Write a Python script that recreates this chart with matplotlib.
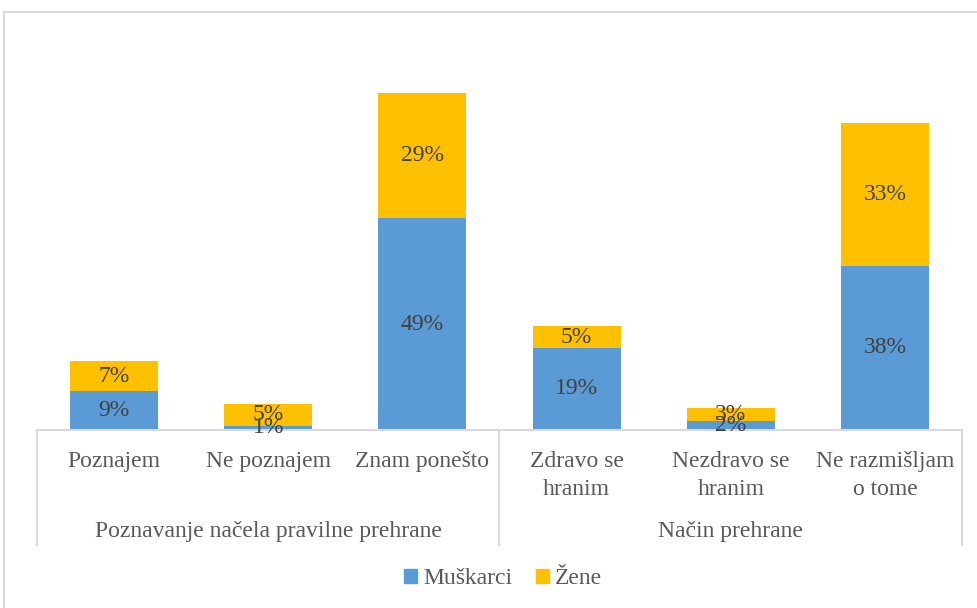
import matplotlib
matplotlib.use("Agg")
import matplotlib.pyplot as plt
from matplotlib.patches import Patch
from matplotlib.lines import Line2D

categories = [["Poznajem"], ["Ne poznajem"], ["Znam ponešto"],
              ["Zdravo se", "hranim"], ["Nezdravo se", "hranim"], ["Ne razmišljam", "o tome"]]
groups = ["Poznavanje načela pravilne prehrane", "Način prehrane"]
group_sizes = [3, 3]
muskarci = [9, 1, 49, 19, 2, 38]
zene = [7, 5, 29, 5, 3, 33]
series_names = ["Muškarci", "Žene"]

BLUE = "#5B9BD5"
GOLD = "#FFC000"
TXT = "#595959"
LBL = "#404040"
GRID = "#D9D9D9"
FONT = "Liberation Serif"
FS = 17

W, H = 978, 608
fig = plt.figure(figsize=(W / 100, H / 100), dpi=100)
plt.rcParams['font.family'] = [FONT, 'DejaVu Serif']

# axes placement (pixel based)
ax_left, ax_right, ax_base = 37, 962, 430
ymax = 90
px_per = 4.32
ax_h = ymax * px_per
ax = fig.add_axes([ax_left / W, (H - ax_base) / H, (ax_right - ax_left) / W, ax_h / H])
ax.set_xlim(-0.5, len(categories) - 0.5)
ax.set_ylim(0, ymax)

x = list(range(len(categories)))
bw = 0.57
b1 = ax.bar(x, muskarci, width=bw, color=BLUE, label=series_names[0], zorder=2)
b2 = ax.bar(x, zene, width=bw, bottom=muskarci, color=GOLD, label=series_names[1], zorder=2)

for xi, m, z in zip(x, muskarci, zene):
    ax.text(xi, m / 2, f"{m}%", ha="center", va="center", fontsize=FS, color=LBL, zorder=3)
    ax.text(xi, m + z / 2, f"{z}%", ha="center", va="center", fontsize=FS, color=LBL, zorder=3)

for s in ["top", "left", "right"]:
    ax.spines[s].set_visible(False)
ax.spines["bottom"].set_color(GRID)
ax.spines["bottom"].set_linewidth(1.5)
ax.set_xticks([])
ax.set_yticks([])
ax.patch.set_alpha(0)

trans = ax.get_xaxis_transform()
def yax(py):
    return (ax_base - py) / ax_h

# category labels
for xi, lines in zip(x, categories):
    for k, line in enumerate(lines):
        ax.text(xi, yax(467 + 28 * k), line, ha="center", va="baseline",
                fontsize=FS, color=TXT, transform=trans, clip_on=False)

# group labels and separators
start = 0
bounds = [-0.5]
for g, n in zip(groups, group_sizes):
    center = start + (n - 1) / 2
    ax.text(center, yax(537), g, ha="center", va="baseline", fontsize=FS,
            color=TXT, transform=trans, clip_on=False)
    start += n
    bounds.append(start - 0.5)
for b in bounds:
    ax.add_line(Line2D([b, b], [0, yax(545)], transform=trans, color=GRID,
                       linewidth=1.5, clip_on=False))

# outer frame
fig.add_artist(Line2D([4 / W, 1], [1 - 12 / H, 1 - 12 / H], transform=fig.transFigure,
                      color=GRID, linewidth=1.5))
fig.add_artist(Line2D([4 / W, 4 / W], [0, 1 - 12 / H], transform=fig.transFigure,
                      color=GRID, linewidth=1.5))

handles = [Patch(color=BLUE, label=series_names[0]), Patch(color=GOLD, label=series_names[1])]
leg = fig.legend(handles=handles, loc="center", bbox_to_anchor=(503 / W, 1 - 579 / H),
                 ncol=2, frameon=False, fontsize=FS, handlelength=0.55, handleheight=0.55,
                 handletextpad=0.25, columnspacing=1.0, labelcolor=TXT)

fig.savefig("out.png", dpi=100)
